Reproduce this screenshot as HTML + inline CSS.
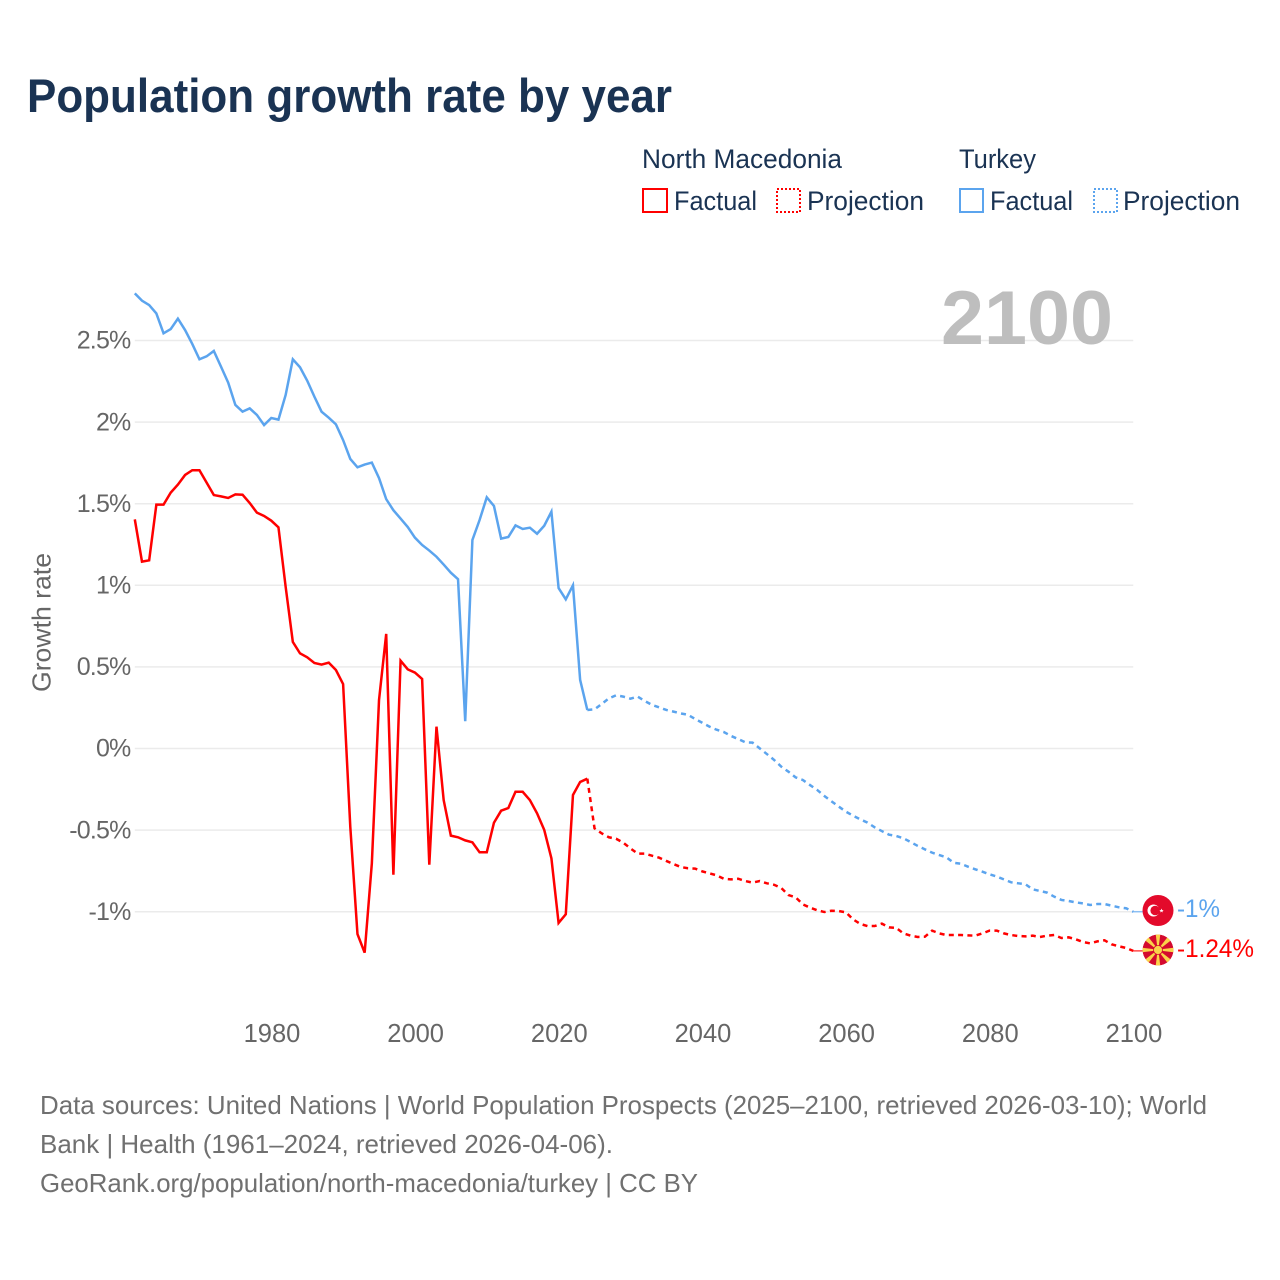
<!DOCTYPE html>
<html lang="en">
<head>
<meta charset="utf-8">
<title>Population growth rate by year</title>
<style>
html,body{margin:0;padding:0;background:#fff;}
svg{display:block;font-family:"Liberation Sans",sans-serif;}
</style>
</head>
<body>
<svg id="chart" xmlns="http://www.w3.org/2000/svg" width="1280" height="1280" viewBox="0 0 1280 1280">
<rect width="1280" height="1280" fill="#fff"/>
<text x="27" y="112" font-size="47" font-weight="700" fill="#1a3353" textLength="645" lengthAdjust="spacingAndGlyphs">Population growth rate by year</text>

<g font-size="27" fill="#1a3353">
<text x="642" y="168" textLength="200" lengthAdjust="spacingAndGlyphs">North Macedonia</text>
<text x="959" y="168" textLength="77" lengthAdjust="spacingAndGlyphs">Turkey</text>
<g>
<rect x="643" y="189" width="24" height="23" fill="none" stroke="#ff0000" stroke-width="2"/>
<text x="674" y="210" textLength="83" lengthAdjust="spacingAndGlyphs">Factual</text>
</g>
<g>
<rect x="777" y="189" width="23" height="23" fill="none" stroke="#ff0000" stroke-width="2" stroke-dasharray="2 2"/>
<text x="807" y="210" textLength="117" lengthAdjust="spacingAndGlyphs">Projection</text>
</g>
<g>
<rect x="960" y="189" width="23" height="23" fill="none" stroke="#5ba4ee" stroke-width="2"/>
<text x="990" y="210" textLength="83" lengthAdjust="spacingAndGlyphs">Factual</text>
</g>
<g>
<rect x="1094" y="189" width="23" height="23" fill="none" stroke="#5ba4ee" stroke-width="2" stroke-dasharray="2 2"/>
<text x="1123" y="210" textLength="117" lengthAdjust="spacingAndGlyphs">Projection</text>
</g>
</g>

<g id="grid"></g>
<g id="y-labels"></g>
<g id="x-labels"></g>
<text transform="translate(50.500 692) rotate(-90)" font-size="26" fill="#666" textLength="139" lengthAdjust="spacingAndGlyphs">Growth rate</text>
<text x="941" y="344" font-size="76" font-weight="700" fill="#bebebe" textLength="172" lengthAdjust="spacingAndGlyphs">2100</text>
<g id="series"></g>

<defs>
<clipPath id="flag-clip-mk"><circle cx="1158" cy="950" r="15.500"/></clipPath>
</defs>
<g>
<circle cx="1158" cy="910.500" r="15.500" fill="#e30a2b"/>
<circle cx="1153.500" cy="910.500" r="6" fill="#fff"/>
<circle cx="1155.200" cy="910.500" r="4.800" fill="#e30a2b"/>
<polygon points="1161.500,908.500 1162.100,910 1163.700,910 1162.400,911 1162.900,912.500 1161.500,911.600 1160.100,912.500 1160.600,911 1159.300,910 1160.900,910" fill="#fff"/>
</g>
<g clip-path="url(#flag-clip-mk)">
<circle cx="1158" cy="950" r="15.500" fill="#d40a2e"/>
<g fill="#fad24a">
<polygon points="1157.600,950 1158.400,950 1160.300,934 1155.700,934"/>
<polygon points="1157.600,950 1158.400,950 1160.300,934 1155.700,934" transform="rotate(45 1158 950)"/>
<polygon points="1157.600,950 1158.400,950 1160.300,934 1155.700,934" transform="rotate(90 1158 950)"/>
<polygon points="1157.600,950 1158.400,950 1160.300,934 1155.700,934" transform="rotate(135 1158 950)"/>
<polygon points="1157.600,950 1158.400,950 1160.300,934 1155.700,934" transform="rotate(180 1158 950)"/>
<polygon points="1157.600,950 1158.400,950 1160.300,934 1155.700,934" transform="rotate(225 1158 950)"/>
<polygon points="1157.600,950 1158.400,950 1160.300,934 1155.700,934" transform="rotate(270 1158 950)"/>
<polygon points="1157.600,950 1158.400,950 1160.300,934 1155.700,934" transform="rotate(315 1158 950)"/>
<circle cx="1158" cy="950" r="4.500" stroke="#d40a2e" stroke-width="0.800"/>
</g>
</g>
<text x="1177" y="917" font-size="25" fill="#5ba4ee" textLength="43" lengthAdjust="spacingAndGlyphs">-1%</text>
<text x="1177" y="957" font-size="25" fill="#ff0000" textLength="77" lengthAdjust="spacingAndGlyphs">-1.24%</text>

<g font-size="26" fill="#707070">
<text x="40" y="1114" textLength="1167" lengthAdjust="spacingAndGlyphs">Data sources: United Nations | World Population Prospects (2025–2100, retrieved 2026-03-10); World</text>
<text x="40" y="1153" textLength="573" lengthAdjust="spacingAndGlyphs">Bank | Health (1961–2024, retrieved 2026-04-06).</text>
<text x="40" y="1192" textLength="658" lengthAdjust="spacingAndGlyphs">GeoRank.org/population/north-macedonia/turkey | CC BY</text>
</g>
</svg>
<script>
const yTicks = [2.5, 2, 1.5, 1, 0.5, 0, -0.5, -1];
const yTickLabels = ["2.5%", "2%", "1.5%", "1%", "0.5%", "0%", "-0.5%", "-1%"];
const xTicks = [1980, 2000, 2020, 2040, 2060, 2080, 2100];
const firstYear = 1961;
const lastFactualYear = 2024;
const turkeyFactual = [2.789,2.744,2.717,2.666,2.544,2.570,2.634,2.564,2.479,2.385,2.403,2.436,2.340,2.242,2.105,2.064,2.084,2.044,1.982,2.025,2.015,2.166,2.385,2.336,2.254,2.156,2.064,2.027,1.986,1.890,1.774,1.723,1.740,1.752,1.657,1.528,1.460,1.409,1.357,1.292,1.247,1.213,1.175,1.127,1.077,1.037,0.167,1.278,1.400,1.539,1.486,1.286,1.296,1.367,1.345,1.353,1.316,1.365,1.451,0.983,0.914,1.000,0.420,0.236];
const turkeyProjection = [0.240,0.273,0.307,0.326,0.318,0.305,0.318,0.291,0.267,0.252,0.236,0.226,0.215,0.207,0.181,0.158,0.134,0.115,0.101,0.077,0.058,0.038,0.036,0.001,-0.034,-0.070,-0.111,-0.142,-0.177,-0.193,-0.224,-0.254,-0.291,-0.324,-0.356,-0.387,-0.412,-0.434,-0.454,-0.483,-0.506,-0.528,-0.536,-0.550,-0.573,-0.597,-0.618,-0.638,-0.653,-0.667,-0.700,-0.706,-0.724,-0.740,-0.755,-0.771,-0.785,-0.802,-0.820,-0.826,-0.832,-0.863,-0.873,-0.883,-0.908,-0.928,-0.934,-0.943,-0.949,-0.959,-0.953,-0.953,-0.963,-0.973,-0.979,-1.000];
const macedoniaFactual = [1.404,1.145,1.153,1.494,1.494,1.568,1.617,1.676,1.705,1.705,1.629,1.553,1.545,1.535,1.557,1.555,1.504,1.445,1.425,1.396,1.355,0.991,0.653,0.583,0.559,0.524,0.514,0.526,0.481,0.395,-0.480,-1.137,-1.251,-0.704,0.297,0.702,-0.773,0.538,0.485,0.465,0.426,-0.712,0.134,-0.316,-0.534,-0.544,-0.563,-0.575,-0.636,-0.636,-0.455,-0.381,-0.365,-0.265,-0.265,-0.316,-0.397,-0.499,-0.673,-1.069,-1.016,-0.285,-0.205,-0.185];
const macedoniaProjection = [-0.489,-0.520,-0.544,-0.553,-0.577,-0.612,-0.644,-0.644,-0.657,-0.669,-0.689,-0.708,-0.726,-0.734,-0.736,-0.753,-0.765,-0.777,-0.798,-0.802,-0.798,-0.812,-0.822,-0.812,-0.826,-0.835,-0.855,-0.898,-0.912,-0.955,-0.975,-0.991,-1.002,-0.994,-0.996,-1.004,-1.047,-1.075,-1.088,-1.088,-1.073,-1.096,-1.099,-1.133,-1.147,-1.155,-1.153,-1.116,-1.133,-1.143,-1.143,-1.143,-1.145,-1.147,-1.133,-1.116,-1.116,-1.133,-1.143,-1.149,-1.151,-1.147,-1.155,-1.147,-1.143,-1.161,-1.157,-1.169,-1.186,-1.194,-1.182,-1.175,-1.200,-1.212,-1.222,-1.240];

const NS = 'http://www.w3.org/2000/svg';
function xScale(year) { return 134.8 + (year - firstYear) * 7.183; }
function yScale(value) { return 748.5 - value * 163.2; }

const grid = document.getElementById('grid');
const yLabels = document.getElementById('y-labels');
const xLabels = document.getElementById('x-labels');
const series = document.getElementById('series');

yTicks.forEach(function (tick, i) {
  const line = document.createElementNS(NS, 'line');
  
  
  line.setAttribute('x1', xScale(firstYear));
  line.setAttribute('x2', xScale(2100));
  line.setAttribute('y1', yScale(tick));
  line.setAttribute('y2', yScale(tick));
  line.setAttribute('stroke', '#ebebeb');
  line.setAttribute('stroke-width', '1.5');
  grid.appendChild(line);
  const label = document.createElementNS(NS, 'text');
  
  
  label.setAttribute('x', 130.5);
  label.setAttribute('y', yScale(tick) + 8.2);
  label.setAttribute('text-anchor', 'end');
  label.setAttribute('font-size', '25');
  label.setAttribute('letter-spacing', '-0.8');
  label.setAttribute('fill', '#666');
  label.textContent = yTickLabels[i];
  yLabels.appendChild(label);
});

xTicks.forEach(function (tick) {
  const label = document.createElementNS(NS, 'text');
  
  
  label.setAttribute('x', xScale(tick) + 0.7);
  label.setAttribute('y', 1042);
  label.setAttribute('text-anchor', 'middle');
  label.setAttribute('font-size', '25.5');
  label.setAttribute('fill', '#666');
  label.textContent = String(tick);
  xLabels.appendChild(label);
});

function drawSeries(values, startYear, color, dashed, name, prefixPoint) {
  const pts = [];
  if (prefixPoint !== null) { pts.push(xScale(startYear - 1) + ',' + yScale(prefixPoint)); }
  values.forEach(function (v, i) { pts.push(xScale(startYear + i) + ',' + yScale(v)); });
  const line = document.createElementNS(NS, 'polyline');
  
  
  line.setAttribute('points', pts.join(' '));
  line.setAttribute('fill', 'none');
  line.setAttribute('stroke', color);
  line.setAttribute('stroke-width', '2.5');
  line.setAttribute('stroke-linejoin', 'miter');
  if (dashed) { line.setAttribute('stroke-dasharray', '5 4.300'); }
  series.appendChild(line);
}
function drawConnector(value, color, name) {
  const line = document.createElementNS(NS, 'line');
  
  
  line.setAttribute('x1', xScale(2100) - 1);
  line.setAttribute('x2', 1144);
  line.setAttribute('y1', yScale(value));
  line.setAttribute('y2', yScale(value));
  line.setAttribute('stroke', color);
  line.setAttribute('stroke-width', '1.500');
  line.setAttribute('opacity', '0.7');
  series.appendChild(line);
}
drawSeries(turkeyProjection, lastFactualYear + 1, '#5ba4ee', true, 'turkey-projection-line', turkeyFactual[turkeyFactual.length - 1]);
drawSeries(macedoniaProjection, lastFactualYear + 1, '#ff0000', true, 'north-macedonia-projection-line', macedoniaFactual[macedoniaFactual.length - 1]);
drawSeries(turkeyFactual, firstYear, '#5ba4ee', false, 'turkey-factual-line', null);
drawSeries(macedoniaFactual, firstYear, '#ff0000', false, 'north-macedonia-factual-line', null);
drawConnector(turkeyProjection[turkeyProjection.length - 1], '#5ba4ee', 'turkey-end-connector');
drawConnector(macedoniaProjection[macedoniaProjection.length - 1], '#ff0000', 'north-macedonia-end-connector');
</script>
</body>
</html>
